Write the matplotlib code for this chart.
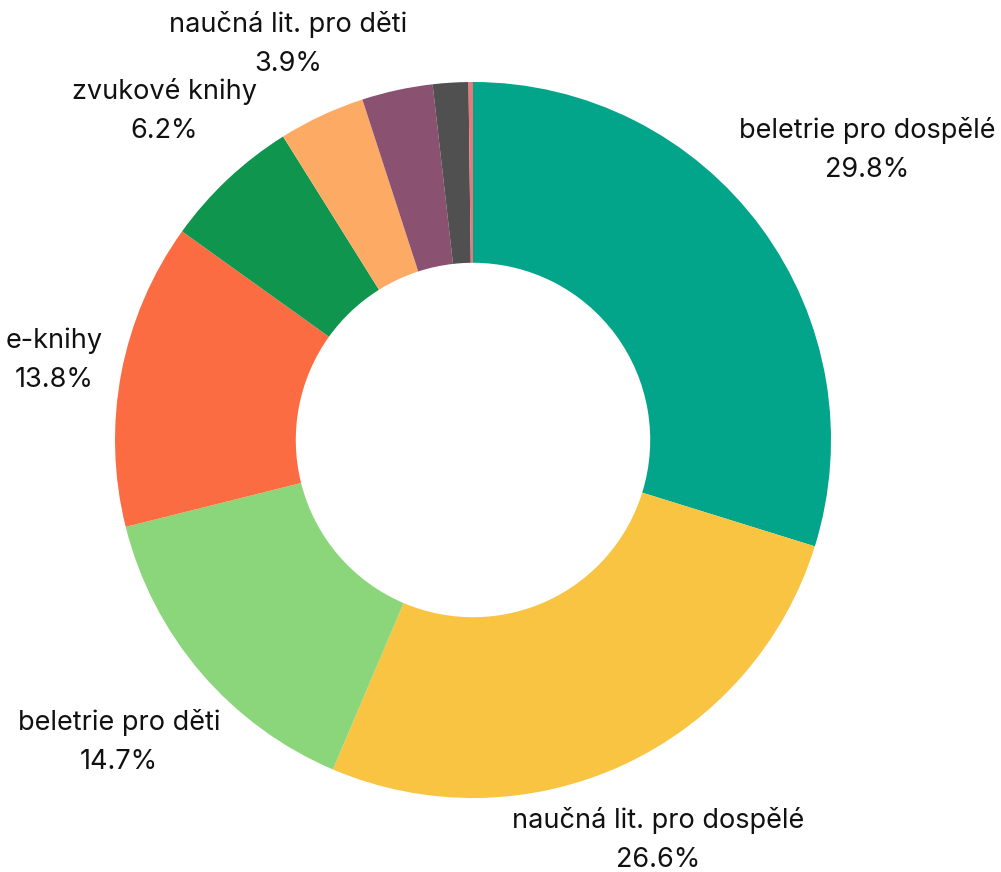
import numpy as np
import matplotlib.pyplot as plt

# data
kategorie = ['beletrie pro dospělé', 'naučná lit. pro dospělé', 'beletrie pro děti',
             'e-knihy', 'zvukové knihy', 'naučná lit. pro děti', 'ostatní', 'jiné', 'zbytek']
podily = [29.8, 26.6, 14.7, 13.8, 6.2, 3.9, 3.2, 1.6, 0.2]
popsane = [True, True, True, True, True, True, False, False, False]
barvy = ['#02a48a', '#f9c441', '#8bd67b', '#fc6c43', '#10954f', '#fdaa65',
         '#8a5170', '#505050', '#e8787a']

# vzdalenost popisku od stredu (v polomerech)
vzdalenost = [1.366, 1.23, 1.30, 1.19, 1.26, 1.22]

plt.rcParams['font.family'] = ['Inter', 'DejaVu Sans']

fig = plt.figure(figsize=(10.01, 8.72), dpi=100)
ax = fig.add_axes([0, 0, 1, 1])

R = 358.0  # polomer v pixelech
cx, cy = 473.0, 440.0

wedges, _ = ax.pie(podily, colors=barvy, startangle=90, counterclock=False,
                   radius=1.0, wedgeprops=dict(width=0.505, linewidth=0))

# popisky
soucet = sum(podily)
kum = 0
for i, (nazev, p) in enumerate(zip(kategorie, podily)):
    stred = (kum + p / 2) / soucet * 360
    kum += p
    if not popsane[i]:
        continue
    uhel = np.deg2rad(90 - stred)
    r = vzdalenost[i]
    x = r * np.cos(uhel)
    y = r * np.sin(uhel)
    ax.text(x, y, f'{nazev}\n{p:.1f}%', ha='center', va='center',
            fontsize=19.5, color='#111111', linespacing=1.65)

ax.set_xlim(-cx / R, (1001 - cx) / R)
ax.set_ylim(-(872 - cy) / R, cy / R)
ax.set_aspect('auto')
ax.axis('off')

fig.savefig('out.png', dpi=100)
